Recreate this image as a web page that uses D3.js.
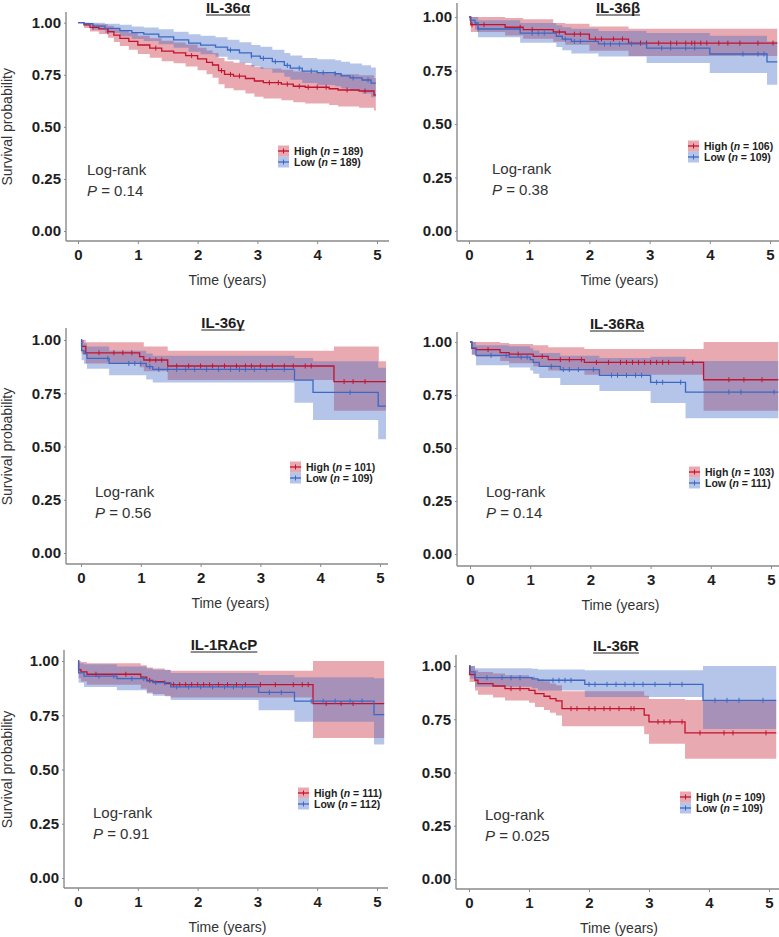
<!DOCTYPE html>
<html><head><meta charset="utf-8">
<script src="https://cdn.jsdelivr.net/npm/d3@7"></script>
<style>
body{margin:0;background:#fff;}
svg{display:block;font-family:"Liberation Sans",Arial,Helvetica,sans-serif;}
</style></head>
<body><svg id="chart" width="779" height="937"></svg>
<script>
// ---------------- DATA ----------------
const titles = ["IL-36α","IL-36β","IL-36γ","IL-36Ra","IL-1RAcP","IL-36R"];
const nHigh = [189,106,101,103,111,109];
const nLow  = [189,109,109,111,112,109];
const pValues = ["0.14","0.38","0.56","0.14","0.91","0.025"];
const timeTicks = [0,1,2,3,4,5];
const survTicks = [0,0.25,0.5,0.75,1];
const survTickLabels = ["0.00","0.25","0.50","0.75","1.00"];
const endTimes = [4.98,5.12,5.1,5.12,5.12,5.12];

// rows: [time, survival, lower CI, upper CI]
const il36aHigh = [[0,1,1,1],[0.1,0.99,0.975,1],[0.2,0.978,0.958,0.995],[0.35,0.97,0.946,0.992],[0.5,0.957,0.928,0.985],[0.6,0.94,0.907,0.975],[0.7,0.925,0.888,0.963],[0.85,0.91,0.87,0.952],[1.0,0.893,0.85,0.937],[1.2,0.878,0.832,0.925],[1.4,0.864,0.815,0.913],[1.6,0.855,0.805,0.905],[1.8,0.842,0.79,0.895],[2.0,0.826,0.772,0.88],[2.15,0.81,0.752,0.866],[2.25,0.797,0.736,0.855],[2.35,0.77,0.705,0.83],[2.45,0.752,0.685,0.815],[2.6,0.744,0.676,0.808],[2.8,0.732,0.66,0.797],[2.95,0.72,0.645,0.787],[3.1,0.712,0.636,0.78],[3.4,0.705,0.628,0.774],[3.6,0.695,0.618,0.766],[3.8,0.69,0.612,0.762],[4.2,0.683,0.605,0.757],[4.35,0.677,0.598,0.752],[4.7,0.672,0.592,0.748],[4.95,0.653,0.578,0.735]];
const il36aLow = [[0,1,1,1],[0.1,0.995,0.985,1],[0.25,0.984,0.966,1],[0.45,0.973,0.95,0.995],[0.7,0.962,0.935,0.99],[0.9,0.952,0.922,0.982],[1.1,0.945,0.912,0.977],[1.35,0.932,0.896,0.968],[1.6,0.918,0.88,0.957],[1.85,0.902,0.86,0.945],[2.05,0.892,0.848,0.937],[2.3,0.883,0.837,0.93],[2.5,0.869,0.822,0.918],[2.7,0.855,0.806,0.906],[2.9,0.84,0.79,0.893],[3.05,0.829,0.778,0.884],[3.25,0.813,0.76,0.87],[3.45,0.795,0.74,0.855],[3.55,0.782,0.726,0.843],[3.75,0.768,0.71,0.831],[4.0,0.76,0.701,0.825],[4.3,0.755,0.695,0.82],[4.4,0.745,0.684,0.812],[4.55,0.735,0.672,0.804],[4.75,0.725,0.66,0.796],[4.9,0.71,0.642,0.785]];
const il36bHigh = [[0,1,1,1],[0.03,0.964,0.93,1],[0.6,0.952,0.913,0.995],[0.9,0.941,0.898,0.99],[1.4,0.93,0.884,0.972],[1.6,0.92,0.87,0.968],[2.0,0.897,0.842,0.956],[2.65,0.878,0.818,0.945]];
const il36bLow = [[0,1,1,1],[0.02,0.984,0.96,1],[0.1,0.972,0.94,1],[0.15,0.944,0.905,0.985],[0.85,0.925,0.88,0.972],[1.45,0.91,0.86,0.962],[1.55,0.897,0.845,0.952],[1.7,0.886,0.83,0.945],[2.15,0.874,0.815,0.935],[2.95,0.855,0.785,0.925],[4.0,0.827,0.738,0.912],[4.95,0.79,0.683,0.885]];
const il36gHigh = [[0,1,1,1],[0.01,0.97,0.935,1],[0.08,0.94,0.89,0.99],[0.98,0.922,0.872,0.99],[1.05,0.906,0.853,0.97],[1.45,0.878,0.812,0.95],[4.23,0.805,0.668,0.97],[4.98,0.805,0.668,0.9]];
const il36gLow = [[0,1,1,1],[0.01,0.95,0.905,1],[0.05,0.935,0.888,0.985],[0.1,0.914,0.865,0.97],[0.47,0.89,0.835,0.95],[1.09,0.875,0.815,0.937],[1.2,0.862,0.8,0.926],[3.57,0.812,0.705,0.915],[3.88,0.754,0.624,0.9],[4.97,0.69,0.534,0.87]];
const il36raHigh = [[0,1,1,1],[0.03,0.97,0.94,1],[0.1,0.964,0.93,1],[0.5,0.95,0.91,0.995],[0.65,0.943,0.9,0.99],[1.05,0.932,0.885,0.985],[1.3,0.917,0.865,0.975],[1.9,0.904,0.846,0.967],[3.88,0.822,0.676,1]];
const il36raLow = [[0,1,1,1],[0.03,0.972,0.94,1],[0.1,0.937,0.89,0.985],[0.65,0.929,0.88,0.98],[1.0,0.917,0.865,0.97],[1.05,0.904,0.85,0.96],[1.15,0.885,0.83,0.948],[1.5,0.87,0.797,0.935],[2.15,0.843,0.769,0.925],[3.0,0.81,0.712,0.93],[3.58,0.764,0.64,0.91]];
const il1racpHigh = [[0,1,1,1],[0.01,0.96,0.92,1],[0.05,0.95,0.905,0.995],[0.15,0.939,0.89,0.99],[1.05,0.926,0.872,0.98],[1.15,0.911,0.855,0.97],[1.25,0.905,0.848,0.965],[1.45,0.896,0.838,0.958],[1.55,0.891,0.832,0.955],[3.93,0.804,0.645,1]];
const il1racpLow = [[0,1,1,1],[0.01,0.945,0.9,0.99],[0.1,0.93,0.88,0.985],[0.65,0.919,0.865,0.975],[1.15,0.907,0.85,0.965],[1.25,0.9,0.84,0.96],[1.55,0.881,0.82,0.945],[3.02,0.855,0.773,0.935],[3.62,0.815,0.72,0.925],[4.95,0.753,0.615,0.92]];
const il36rHigh = [[0,1,1,1],[0.01,0.96,0.925,1],[0.1,0.933,0.885,0.98],[0.15,0.917,0.865,0.972],[0.4,0.906,0.852,0.965],[0.6,0.894,0.838,0.957],[1.0,0.886,0.828,0.95],[1.1,0.87,0.808,0.938],[1.25,0.858,0.793,0.928],[1.35,0.847,0.78,0.918],[1.45,0.836,0.768,0.91],[1.55,0.8,0.717,0.882],[2.92,0.769,0.68,0.86],[3.0,0.738,0.635,0.845],[3.6,0.686,0.565,0.84]];
const il36rLow = [[0,1,1,1],[0.02,0.972,0.94,1],[0.1,0.945,0.903,0.99],[1.05,0.94,0.895,0.987],[1.15,0.933,0.885,0.983],[1.93,0.914,0.854,0.98],[3.9,0.839,0.704,1]];

// censoring times
const il36aHighCens = [0.25,0.5,1.3,1.9,2.4,2.55,2.7,3.2,3.35,3.5,3.7,3.85,4.0,4.15,4.5,4.8];
const il36aLowCens = [2.55,2.9,3.1,3.3,3.5,3.7,3.9,4.1,4.3,4.6,4.85];
const il36bHighCens = [0.05,0.25,0.85,1.05,1.5,1.75,1.85,2.1,2.2,2.4,2.55,2.85,2.95,3.15,3.35,3.45,3.6,3.7,3.75,3.85,3.95,4.15,4.3,4.5,4.8,5.05];
const il36bLowCens = [0.15,1.05,1.15,1.25,1.6,1.75,1.85,2.25,2.35,2.5,2.7,3.2,3.35,3.6,3.75,4.55,4.8,4.9];
const il36gHighCens = [0.3,0.55,0.7,0.85,1.15,1.25,1.35,1.6,1.8,2.0,2.2,2.4,2.6,2.75,2.85,3.0,3.2,3.4,3.55,3.75,3.85,4.4,4.55,4.75];
const il36gLowCens = [0.45,0.8,0.9,1.0,1.15,1.3,1.45,1.6,1.75,1.9,2.1,2.3,2.5,2.65,2.75,2.9,3.1,3.4,4.5];
const il36raHighCens = [0.3,0.8,1.2,1.5,1.65,1.85,2.1,2.3,2.5,2.6,2.7,2.8,2.9,3.0,3.1,3.2,3.3,3.55,3.7,4.3,4.55,4.85];
const il36raLowCens = [0.35,0.6,0.85,0.95,1.35,1.55,1.65,1.8,2.05,2.35,2.45,2.6,2.75,2.85,3.1,3.2,3.5,4.3,4.5,5.05];
const il1racpHighCens = [0.3,0.8,1.2,1.6,1.7,1.8,1.9,2.0,2.1,2.2,2.35,2.5,2.65,2.8,3.05,3.3,3.6,3.75,3.85,4.15,4.4,4.6];
const il1racpLowCens = [0.35,0.6,0.9,1.1,1.3,1.45,1.65,1.85,2.05,2.25,2.45,2.6,2.75,3.2,3.4,3.9,4.1,4.3,4.55,4.75];
const il36rHighCens = [0.7,0.85,1.7,1.8,2.0,2.1,2.25,2.35,2.5,2.7,2.75,3.15,3.25,3.35,3.55,3.85,4.25,4.4,4.95];
const il36rLowCens = [0.3,0.55,0.7,0.85,1.4,1.5,1.6,1.7,2.0,2.1,2.3,2.45,2.6,2.75,2.9,3.1,3.35,3.55,4.1,4.3,4.5,4.9];

const highCurves = [il36aHigh,il36bHigh,il36gHigh,il36raHigh,il1racpHigh,il36rHigh];
const lowCurves  = [il36aLow,il36bLow,il36gLow,il36raLow,il1racpLow,il36rLow];
const highCens = [il36aHighCens,il36bHighCens,il36gHighCens,il36raHighCens,il1racpHighCens,il36rHighCens];
const lowCens  = [il36aLowCens,il36bLowCens,il36gLowCens,il36raLowCens,il1racpLowCens,il36rLowCens];

// ---------------- LAYOUT ----------------
const layout = [
 {ax:66, x0:78, x5:377, y1:22.7, y0:231, ay:241, top:12, right:389, tx:228, ty:7, lk:278, lr:151, lx:87, lrY:170, ylab:true},
 {ax:457,x0:469,x5:770, y1:17,  y0:231, ay:241, top:3,  right:779, tx:618, ty:7, lk:688, lr:146, lx:492, lrY:169, ylab:false},
 {ax:66, x0:81, x5:380, y1:340, y0:553, ay:564, top:328,right:388, tx:223, ty:322, lk:290, lr:467, lx:95, lrY:492, ylab:true},
 {ax:457,x0:470,x5:771, y1:342, y0:554, ay:566, top:332,right:779, tx:617, ty:323, lk:689, lr:472, lx:486, lrY:492, ylab:false},
 {ax:64, x0:78, x5:377, y1:661, y0:878, ay:888, top:650,right:388, tx:224, ty:644, lk:298, lr:793, lx:93, lrY:813, ylab:true},
 {ax:456,x0:469,x5:769, y1:666, y0:879, ay:889, top:655,right:779, tx:616, ty:645, lk:680, lr:797, lx:485, lrY:815, ylab:false}
];
const RED_LINE="#C4122E", BLUE_LINE="#3A68C4";
const RED_FILL="#C8283A", BLUE_FILL="#466EC8";
const FILL_OP=0.4;
const AXIS_COL="#8a8a8a";

const svg = d3.select("#chart");

function sAt(steps,t){let s=1;for(const r of steps){if(r[0]<=t)s=r[1];}return s;}

layout.forEach((L,i)=>{
  const g = svg.append("g");
  const x = d3.scaleLinear().domain([0,5]).range([L.x0,L.x5]);
  const y = d3.scaleLinear().domain([0,1]).range([L.y0,L.y1]);
  const tEnd = endTimes[i];

  const groups = [
    {steps:highCurves[i], cens:highCens[i], line:RED_LINE, fill:RED_FILL},
    {steps:lowCurves[i],  cens:lowCens[i],  line:BLUE_LINE, fill:BLUE_FILL}
  ];
  groups.forEach(G=>{
    const last = G.steps[G.steps.length-1];
    const pts = G.steps.concat([[tEnd, last[1], last[2], last[3]]]);
    g.append("path").datum(pts)
      .attr("d", d3.area().curve(d3.curveStepAfter).x(d=>x(d[0])).y0(d=>y(d[2])).y1(d=>y(d[3])))
      .attr("fill",G.fill).attr("fill-opacity",FILL_OP).attr("stroke","none");
  });
  groups.forEach(G=>{
    const pts = G.steps.concat([[tEnd, G.steps[G.steps.length-1][1]]]);
    g.append("path").datum(pts)
      .attr("d", d3.line().curve(d3.curveStepAfter).x(d=>x(d[0])).y(d=>y(d[1])))
      .attr("fill","none").attr("stroke",G.line).attr("stroke-width",1.3);
    g.selectAll(null).data(G.cens).enter().append("line")
      .attr("x1",d=>x(d)).attr("x2",d=>x(d))
      .attr("y1",d=>y(sAt(G.steps,d))-2.5).attr("y2",d=>y(sAt(G.steps,d))+2.5)
      .attr("stroke",G.line).attr("stroke-width",1);
  });

  const xa = g.append("g").attr("transform",`translate(0,${L.ay})`)
    .call(d3.axisBottom(x).tickValues(timeTicks).tickFormat(d3.format("d")).tickSize(3).tickPadding(5));
  xa.select(".domain").remove();
  xa.selectAll(".tick line").attr("stroke",AXIS_COL);
  xa.selectAll(".tick text").attr("font-size",15).attr("font-weight","bold").attr("fill","#1e1e1e")
    .attr("font-family","Liberation Sans, Arial, sans-serif");
  const ya = g.append("g").attr("transform",`translate(${L.ax},0)`)
    .call(d3.axisLeft(y).tickValues(survTicks).tickFormat((d,k)=>survTickLabels[k]).tickSize(2).tickPadding(3));
  ya.select(".domain").remove();
  ya.selectAll(".tick line").attr("stroke",AXIS_COL);
  ya.selectAll(".tick text").attr("font-size",15).attr("font-weight","bold").attr("fill","#1e1e1e")
    .attr("font-family","Liberation Sans, Arial, sans-serif");
  g.append("line").attr("x1",L.ax).attr("x2",L.right).attr("y1",L.ay).attr("y2",L.ay)
    .attr("stroke",AXIS_COL).attr("stroke-width",1.4);
  g.append("line").attr("x1",L.ax).attr("x2",L.ax).attr("y1",L.top).attr("y2",L.ay)
    .attr("stroke",AXIS_COL).attr("stroke-width",1.4);

  g.append("text").attr("x",(L.x0+L.x5)/2).attr("y",L.ay+44).attr("text-anchor","middle")
    .attr("font-size",14).attr("fill","#333").text("Time (years)");
  if(L.ylab){
    g.append("text").attr("transform",`translate(12,${(L.y0+L.y1)/2}) rotate(-90)`)
      .attr("text-anchor","middle").attr("font-size",14).attr("fill","#333").text("Survival probability");
  }
  const tt = g.append("text").attr("x",L.tx).attr("y",L.ty+5.5).attr("text-anchor","middle")
    .attr("font-size",15).attr("font-weight","bold").attr("fill","#1e1e1e").text(titles[i]);
  const tw = tt.node().getComputedTextLength();
  g.append("line").attr("x1",L.tx-tw/2).attr("x2",L.tx+tw/2).attr("y1",L.ty+8).attr("y2",L.ty+8)
    .attr("stroke","#1e1e1e").attr("stroke-width",1);

  g.append("text").attr("x",L.lx).attr("y",L.lrY+5).attr("font-size",15).attr("fill","#333").text("Log-rank");
  const pt = g.append("text").attr("x",L.lx).attr("y",L.lrY+26).attr("font-size",15).attr("fill","#333");
  pt.append("tspan").attr("font-style","italic").text("P");
  pt.append("tspan").text(" = " + pValues[i]);

  const rows = [
    {lab:"High", n:nHigh[i], line:RED_LINE, fill:RED_FILL},
    {lab:"Low", n:nLow[i], line:BLUE_LINE, fill:BLUE_FILL}
  ];
  rows.forEach((R,k)=>{
    const cy = L.lr + k*11;
    g.append("rect").attr("x",L.lk).attr("y",cy-5.5).attr("width",11).attr("height",11)
      .attr("fill",R.fill).attr("fill-opacity",FILL_OP);
    g.append("line").attr("x1",L.lk).attr("x2",L.lk+11).attr("y1",cy).attr("y2",cy)
      .attr("stroke",R.line).attr("stroke-width",1.3);
    g.append("line").attr("x1",L.lk+5.5).attr("x2",L.lk+5.5).attr("y1",cy-2.5).attr("y2",cy+2.5)
      .attr("stroke",R.line).attr("stroke-width",1);
    const t = g.append("text").attr("x",L.lk+16).attr("y",cy+3.8).attr("font-size",10.5)
      .attr("font-weight","bold").attr("fill","#1e1e1e");
    t.append("tspan").text(R.lab + " (");
    t.append("tspan").attr("font-style","italic").text("n");
    t.append("tspan").text(" = " + R.n + ")");
  });
});
</script>
</body></html>
